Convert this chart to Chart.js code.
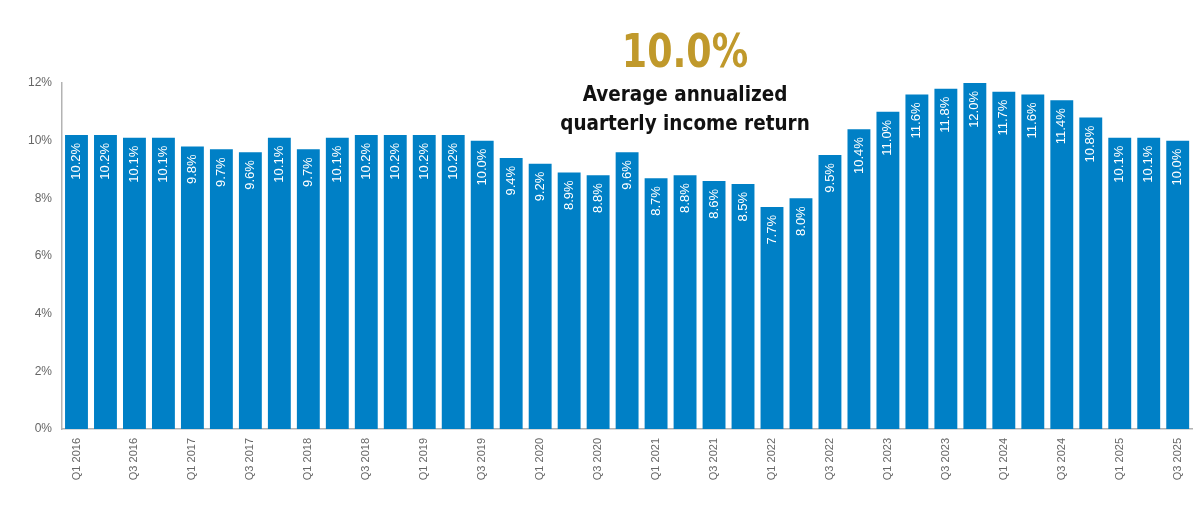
<!DOCTYPE html>
<html>
<head>
<meta charset="utf-8">
<script src="https://cdn.jsdelivr.net/npm/chart.js@4"></script>
<style>
  html, body { margin: 0; padding: 0; background: #fff; }
  #wrap { position: relative; width: 1200px; height: 508px; }
  #headline {
    position: absolute; left: 585px; top: 27px; width: 200px; text-align: center;
    font-family: "Liberation Sans Narrow", "DejaVu Sans Condensed", sans-serif;
    font-size: 46px; font-weight: bold; color: #c0992b; line-height: 48px;
    transform: scaleX(0.88);
  }
  #sub {
    position: absolute; left: 535px; top: 79px; width: 300px; text-align: center;
    font-family: "Liberation Sans Narrow", "DejaVu Sans Condensed", sans-serif;
    font-size: 22px; font-weight: bold; color: #111; line-height: 29px;
    transform: scaleX(0.93);
  }
</style>
</head>
<body>
<div id="wrap">
  <canvas id="chart" width="1200" height="508"></canvas>
  <div id="headline">10.0%</div>
  <div id="sub">Average annualized<br>quarterly income return</div>
</div>
<script>
const quarters = [
  'Q1 2016','Q2 2016','Q3 2016','Q4 2016',
  'Q1 2017','Q2 2017','Q3 2017','Q4 2017',
  'Q1 2018','Q2 2018','Q3 2018','Q4 2018',
  'Q1 2019','Q2 2019','Q3 2019','Q4 2019',
  'Q1 2020','Q2 2020','Q3 2020','Q4 2020',
  'Q1 2021','Q2 2021','Q3 2021','Q4 2021',
  'Q1 2022','Q2 2022','Q3 2022','Q4 2022',
  'Q1 2023','Q2 2023','Q3 2023','Q4 2023',
  'Q1 2024','Q2 2024','Q3 2024','Q4 2024',
  'Q1 2025','Q2 2025','Q3 2025'
];
const incomeReturn = [
  10.2, 10.2, 10.1, 10.1,
  9.8, 9.7, 9.6, 10.1,
  9.7, 10.1, 10.2, 10.2,
  10.2, 10.2, 10.0, 9.4,
  9.2, 8.9, 8.8, 9.6,
  8.7, 8.8, 8.6, 8.5,
  7.7, 8.0, 9.5, 10.4,
  11.0, 11.6, 11.8, 12.0,
  11.7, 11.6, 11.4, 10.8,
  10.1, 10.1, 10.0
];
const yTicks = [0, 2, 4, 6, 8, 10, 12];

// white rotated value labels inside the top of each bar
const barLabels = {
  id: 'barLabels',
  afterDatasetsDraw(chart) {
    const ctx = chart.ctx;
    const meta = chart.getDatasetMeta(0);
    ctx.save();
    ctx.fillStyle = '#ffffff';
    ctx.font = '13px "Liberation Sans", Arial, sans-serif';
    ctx.textAlign = 'right';
    ctx.textBaseline = 'middle';
    meta.data.forEach((bar, i) => {
      ctx.save();
      ctx.translate(bar.x, bar.y + 8);
      ctx.rotate(-Math.PI / 2);
      ctx.fillText(incomeReturn[i].toFixed(1) + '%', 0, 0);
      ctx.restore();
    });
    ctx.restore();
  }
};

const chart = new Chart(document.getElementById('chart').getContext('2d'), {
  type: 'bar',
  data: {
    labels: quarters,
    datasets: [{
      data: incomeReturn,
      backgroundColor: '#0080c6',
      barPercentage: 0.79,
      categoryPercentage: 1.0
    }]
  },
  options: {
    responsive: false,
    animation: false,
    layout: { padding: { top: 83, right: 7, left: 0, bottom: 0 } },
    plugins: {
      legend: { display: false },
      tooltip: { enabled: false }
    },
    scales: {
      x: {
        grid: { display: false, drawTicks: false },
        border: { color: '#b3b3b3', width: 1.5 },
        ticks: {
          autoSkip: false,
          maxRotation: 90,
          minRotation: 90,
          padding: 9,
          color: '#666',
          font: { family: '"Liberation Sans", Arial, sans-serif', size: 11 },
          callback: (v, i) => (i % 2 === 0 ? quarters[i] : '')
        },
        afterFit: (s) => { s.height = 79; }
      },
      y: {
        min: 0,
        max: 12,
        afterBuildTicks: (s) => { s.ticks = yTicks.map(v => ({ value: v })); },
        grid: { display: false, drawTicks: false },
        border: { color: '#b3b3b3', width: 1.5 },
        ticks: {
          padding: 10,
          color: '#666',
          font: { family: '"Liberation Sans", Arial, sans-serif', size: 12 },
          callback: (v) => v + '%'
        },
        afterFit: (s) => { s.width = 62; }
      }
    }
  },
  plugins: [barLabels]
});
</script>
</body>
</html>
